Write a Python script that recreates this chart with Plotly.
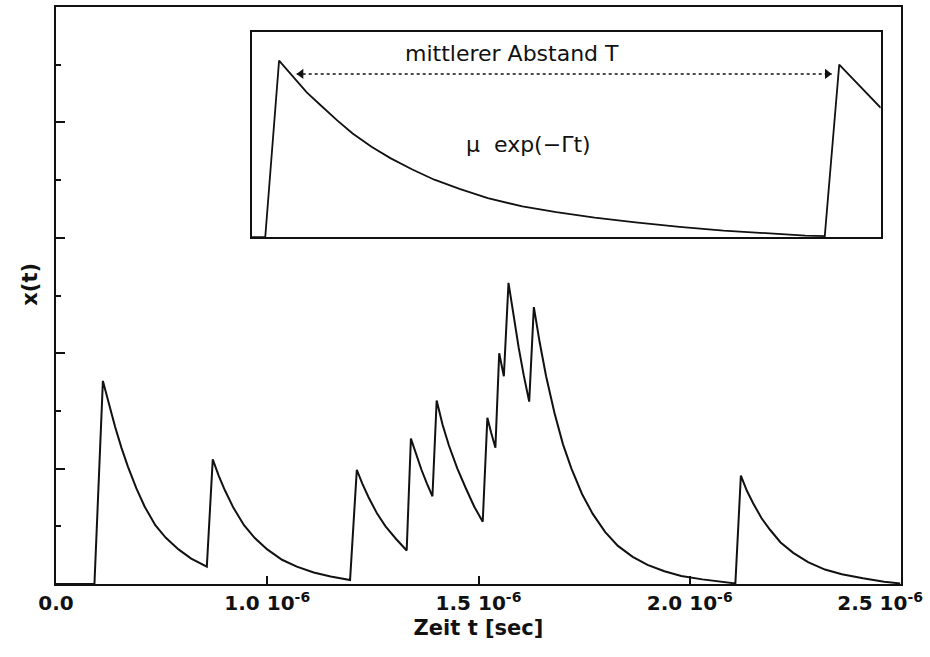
import plotly.graph_objects as go

# ---- main trace: time in units of 1e-6 s, x(t) in arbitrary units ----
t_main = [0.500, 0.591,
          0.611, 0.625, 0.640, 0.655, 0.670, 0.690, 0.710, 0.735, 0.760, 0.790, 0.820, 0.857,
          0.871, 0.885, 0.900, 0.920, 0.945, 0.970, 1.000, 1.035, 1.070, 1.110, 1.150, 1.196,
          1.212, 1.225, 1.240, 1.260, 1.280, 1.305, 1.330,
          1.340, 1.352, 1.365, 1.378, 1.391,
          1.401, 1.415, 1.430, 1.450, 1.470, 1.490, 1.510,
          1.521, 1.530, 1.540,
          1.549, 1.560,
          1.571, 1.583, 1.595, 1.607, 1.620,
          1.631, 1.645, 1.660, 1.680, 1.700, 1.720, 1.745, 1.770, 1.800, 1.830, 1.865, 1.900,
          1.940, 1.980, 2.030, 2.070, 2.108,
          2.121, 2.135, 2.150, 2.170, 2.190, 2.215, 2.245, 2.280, 2.320, 2.360, 2.410, 2.460,
          2.498]
x_main = [0.0, 0.0,
          1.76, 1.56, 1.36, 1.18, 1.02, 0.83, 0.67, 0.51, 0.40, 0.30, 0.22, 0.15,
          1.08, 0.94, 0.81, 0.66, 0.51, 0.40, 0.30, 0.21, 0.15, 0.10, 0.065, 0.035,
          0.99, 0.87, 0.75, 0.61, 0.50, 0.39, 0.29,
          1.26, 1.12, 0.99, 0.87, 0.76,
          1.59, 1.38, 1.20, 1.00, 0.83, 0.67, 0.54,
          1.44, 1.31, 1.18,
          2.00, 1.80,
          2.61, 2.31, 2.05, 1.81, 1.58,
          2.40, 2.09, 1.80, 1.48, 1.21, 1.00, 0.78, 0.61, 0.45, 0.33, 0.235, 0.165,
          0.11, 0.07, 0.04, 0.02, 0.005,
          0.94, 0.81, 0.70, 0.57, 0.47, 0.36, 0.27, 0.19, 0.125, 0.085, 0.05, 0.02,
          0.005]

x_tickvals = [0.5, 1.0, 1.5, 2.0, 2.5]
x_ticktext = ["0.0", "1.0 10<sup>-6</sup>", "1.5 10<sup>-6</sup>", "2.0 10<sup>-6</sup>",
              "2.5 10<sup>-6</sup>\u00a0\u00a0\u00a0\u00a0\u00a0\u00a0"]
y_major = [1, 2, 3, 4]
y_minor = [0.5, 1.5, 2.5, 3.5, 4.5]

# ---- inset: one isolated pulse (normalised units) ----
t_inset = [0.0, 0.021, 0.043, 0.065, 0.087, 0.110, 0.135, 0.160, 0.190, 0.220, 0.255,
           0.290, 0.330, 0.375, 0.430, 0.484, 0.545, 0.610, 0.680, 0.750, 0.820, 0.880,
           0.911, 0.934, 1.0]
x_inset = [0.0, 0.0, 0.86, 0.78, 0.705, 0.64, 0.57, 0.505, 0.44, 0.385, 0.33,
           0.28, 0.235, 0.19, 0.15, 0.122, 0.095, 0.072, 0.05, 0.032, 0.018, 0.008,
           0.005, 0.84, 0.63]
arrow_t = [0.071, 0.922]
arrow_y = [0.795, 0.795]

label_T = "mittlerer Abstand T"
label_mu = "\u03bc\u00a0 exp(\u2212\u0393t)"

FONT = "DejaVu Sans"
BLACK = "#111111"

fig = go.Figure()
fig.add_trace(go.Scatter(x=t_main, y=x_main, mode="lines",
                         line=dict(color=BLACK, width=2), xaxis="x", yaxis="y",
                         showlegend=False, hoverinfo="skip"))
fig.add_trace(go.Scatter(x=t_inset, y=x_inset, mode="lines",
                         line=dict(color=BLACK, width=1.8), xaxis="x2", yaxis="y2",
                         showlegend=False, hoverinfo="skip"))
fig.add_trace(go.Scatter(x=arrow_t, y=arrow_y, mode="lines",
                         line=dict(color=BLACK, width=1.5, dash="dot"), xaxis="x2", yaxis="y2",
                         showlegend=False, hoverinfo="skip"))
fig.add_trace(go.Scatter(x=[arrow_t[0] + 0.007, arrow_t[1] - 0.007], y=arrow_y, mode="markers",
                         marker=dict(symbol=["triangle-left", "triangle-right"], size=9,
                                     color=BLACK, line=dict(width=0)),
                         xaxis="x2", yaxis="y2", showlegend=False, hoverinfo="skip"))

tick_font = dict(family=FONT, size=20, color=BLACK, weight="bold")

fig.update_layout(
    width=930, height=657,
    margin=dict(l=56, r=29, t=7, b=73),
    paper_bgcolor="white", plot_bgcolor="white",
    font=dict(family=FONT, color=BLACK, size=20),
    xaxis=dict(range=[0.5, 2.5], tickvals=x_tickvals, ticktext=x_ticktext,
               ticks="inside", ticklen=8, tickwidth=1.5, tickcolor=BLACK,
               showline=True, linewidth=2, linecolor=BLACK, mirror=True,
               showgrid=False, zeroline=False, ticklabeloverflow="allow",
               automargin=False, tickfont=tick_font,
               title=dict(text="Zeit t [sec]", font=dict(family=FONT, size=21, color=BLACK,
                                                          weight="bold"),
                          standoff=6)),
    yaxis=dict(range=[0, 5], tickvals=y_major, ticks="inside", ticklen=9, tickwidth=1.5,
               tickcolor=BLACK, showticklabels=False, automargin=False,
               minor=dict(tickvals=y_minor, ticks="inside", ticklen=5, tickwidth=1.5,
                          tickcolor=BLACK, showgrid=False),
               showline=True, linewidth=2, linecolor=BLACK, mirror=True,
               showgrid=False, zeroline=False),
    xaxis2=dict(domain=[0.232, 0.976], anchor="y2", range=[0, 1], showticklabels=False,
                ticks="", showline=True, linewidth=1.8, linecolor=BLACK, mirror=True,
                showgrid=False, zeroline=False),
    yaxis2=dict(domain=[0.601, 0.957], anchor="x2", range=[0, 1], showticklabels=False,
                ticks="", showline=True, linewidth=1.8, linecolor=BLACK, mirror=True,
                showgrid=False, zeroline=False),
    annotations=[
        dict(text="x(t)", xref="paper", yref="paper", x=-0.031, y=0.52, textangle=-90,
             showarrow=False, font=dict(family=FONT, size=21, color=BLACK, weight="bold"),
             xanchor="center", yanchor="middle"),
        dict(text=label_T, xref="x2", yref="y2", x=0.413, y=0.893, showarrow=False,
             font=dict(family=FONT, size=22, color=BLACK), xanchor="center", yanchor="middle"),
        dict(text=label_mu, xref="x2", yref="y2", x=0.439, y=0.449, showarrow=False,
             font=dict(family=FONT, size=22, color=BLACK), xanchor="center", yanchor="middle"),
    ],
)

fig.write_html("out.html", config={"displayModeBar": False},
               post_script="document.body.style.margin='0';")
